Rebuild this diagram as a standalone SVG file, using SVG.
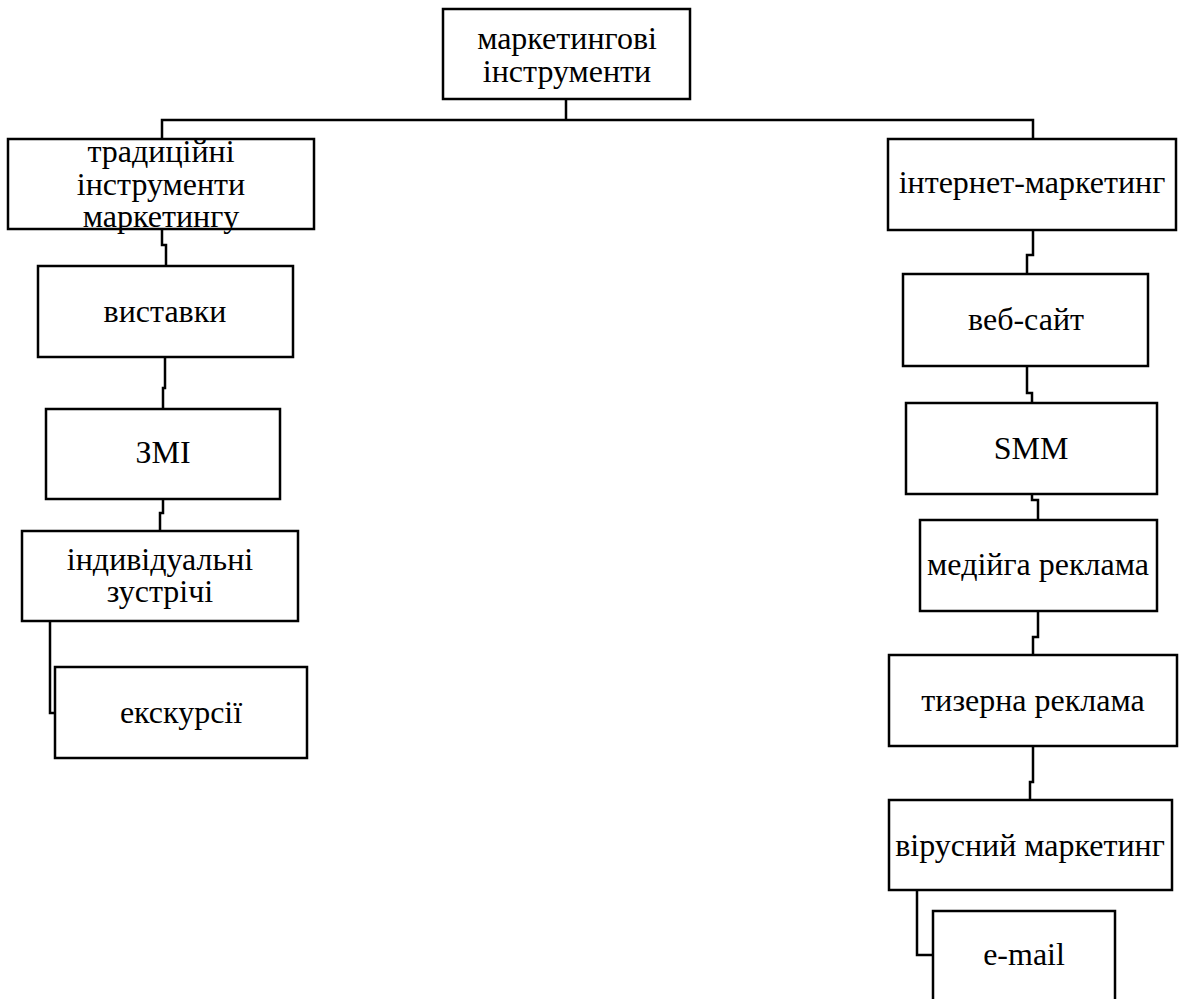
<svg xmlns="http://www.w3.org/2000/svg" width="1180" height="999" viewBox="0 0 1180 999">
<style>
.box{fill:#fff;stroke:#000;stroke-width:2.5}
.c{fill:none;stroke:#000;stroke-width:2.5}
</style>
<rect width="1180" height="999" fill="#fff"/>
<g id="connectors">
<path class="c" d="M566,99 V120 M162,139 V120 H1033 V139"/>
<path class="c" d="M162,229 V245 H166 V266"/>
<path class="c" d="M165,357 V388 H163 V409"/>
<path class="c" d="M163,499 V513 H160 V531"/>
<path class="c" d="M50,621 V713 H55"/>
<path class="c" d="M1033,230 V255 H1027 V274"/>
<path class="c" d="M1027,366 V393 H1032 V403"/>
<path class="c" d="M1032,494 V500 H1038 V520"/>
<path class="c" d="M1038,611 V637 H1033 V655"/>
<path class="c" d="M1033,746 V782 H1030 V800"/>
<path class="c" d="M917,890 V955 H933"/>
</g>
<g font-family="Liberation Serif, Times New Roman, serif" font-size="32" text-anchor="middle" fill="#000">
<g id="root"><rect class="box" x="443" y="9" width="247" height="90"/><text x="567" y="49">маркетингові</text><text x="567" y="82">інструменти</text></g>
<g id="traditional"><rect class="box" x="8" y="139" width="306" height="90"/><text x="161" y="162">традиційні</text><text x="161" y="195">інструменти</text><text x="161" y="227">маркетингу</text></g>
<g id="internet"><rect class="box" x="888" y="139" width="288" height="91"/><text x="1032" y="193">інтернет-маркетинг</text></g>
<g id="exhibitions"><rect class="box" x="38" y="266" width="255" height="91"/><text x="165" y="322">виставки</text></g>
<g id="media"><rect class="box" x="46" y="409" width="234" height="90"/><text x="163" y="463">ЗМІ</text></g>
<g id="meetings"><rect class="box" x="22" y="531" width="276" height="90"/><text x="160" y="570">індивідуальні</text><text x="160" y="602">зустрічі</text></g>
<g id="excursions"><rect class="box" x="55" y="667" width="252" height="91"/><text x="181" y="723">екскурсії</text></g>
<g id="website"><rect class="box" x="903" y="274" width="245" height="92"/><text x="1026" y="330">веб-сайт</text></g>
<g id="smm"><rect class="box" x="906" y="403" width="251" height="91"/><text x="1031" y="459">SMM</text></g>
<g id="display"><rect class="box" x="920" y="520" width="237" height="91"/><text x="1038" y="575">медійга реклама</text></g>
<g id="teaser"><rect class="box" x="889" y="655" width="288" height="91"/><text x="1033" y="711">тизерна реклама</text></g>
<g id="viral"><rect class="box" x="889" y="800" width="283" height="90"/><text x="1030" y="856">вірусний маркетинг</text></g>
<g id="email"><rect class="box" x="933" y="911" width="182" height="100"/><text x="1024" y="965">e-mail</text></g>
</g>
</svg>
